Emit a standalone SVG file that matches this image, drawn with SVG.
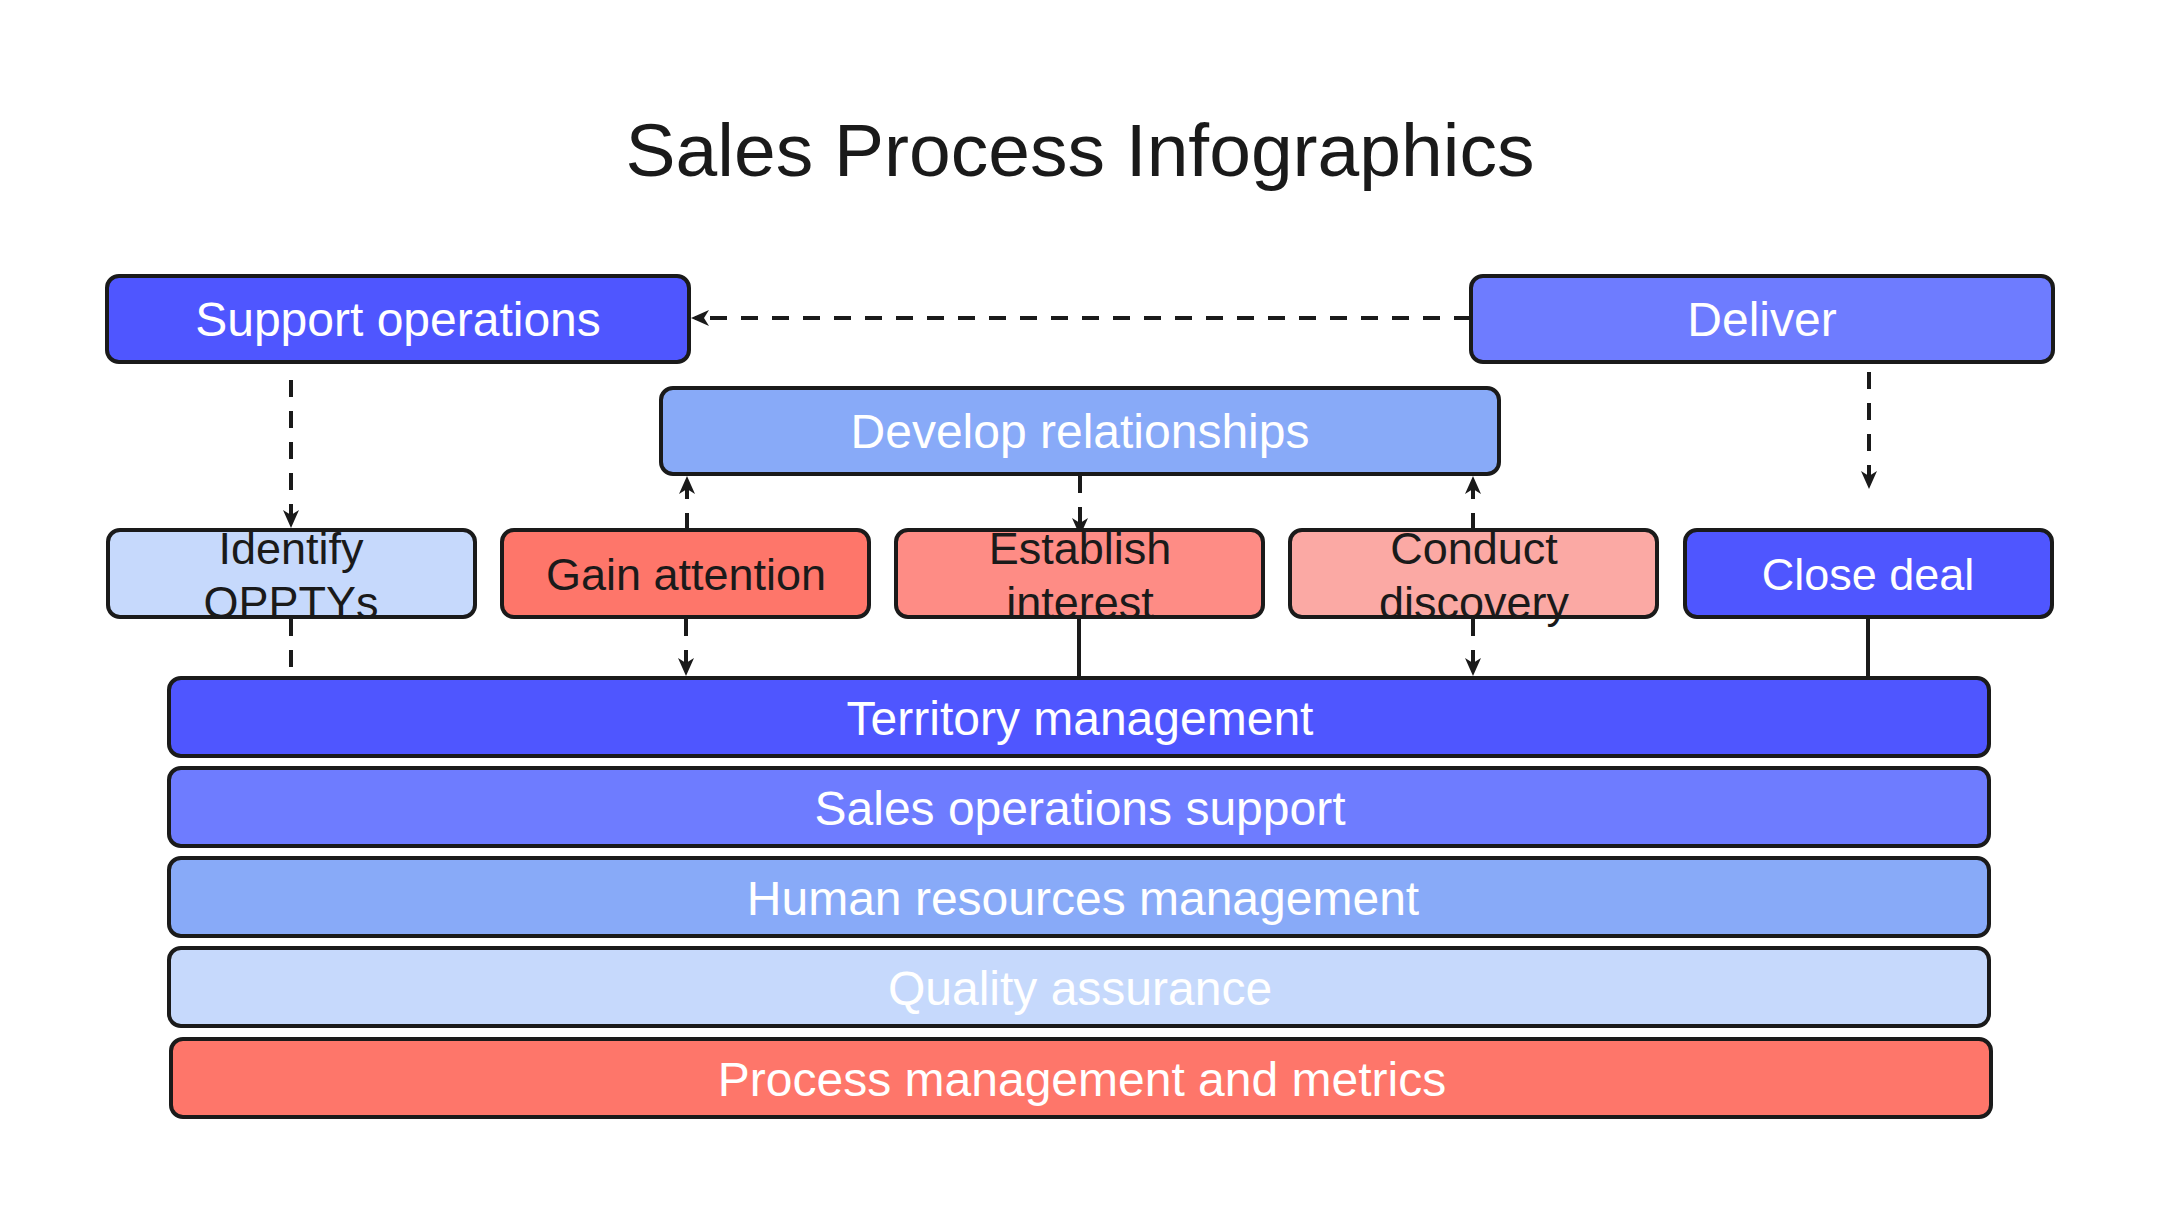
<svg xmlns="http://www.w3.org/2000/svg" width="2160" height="1215" viewBox="0 0 2160 1215">
<defs>
<marker id="arr" viewBox="0 0 18 18" refX="14" refY="9" markerWidth="18" markerHeight="18" markerUnits="userSpaceOnUse" orient="auto">
<path d="M0,1 L18,9 L0,17 L5,9 z" fill="#1a1a1a"/>
</marker>
<style>
.n{stroke:#1a1a1a;stroke-width:4}
.t{font-family:"Liberation Sans",Arial,sans-serif;text-anchor:middle}
.w{fill:#ffffff}
.d{fill:#1a1a1a}
.c{fill:none;stroke:#1a1a1a;stroke-width:4}
.dash{stroke-dasharray:17 14}
</style>
</defs>
<rect width="2160" height="1215" fill="#ffffff"/>
<text class="t d" x="1080" y="176" font-size="75">Sales Process Infographics</text>

<g id="connectors">
<line class="c dash" x1="1471" y1="318" x2="695" y2="318" marker-end="url(#arr)"/>
<line class="c dash" x1="291" y1="380" x2="291" y2="524" marker-end="url(#arr)"/>
<line class="c dash" x1="1869" y1="372" x2="1869" y2="485" marker-end="url(#arr)"/>
<line class="c dash" x1="687" y1="530" x2="687" y2="480" marker-end="url(#arr)"/>
<line class="c dash" x1="1080" y1="476" x2="1080" y2="532" marker-end="url(#arr)"/>
<line class="c dash" x1="1473" y1="530" x2="1473" y2="480" marker-end="url(#arr)"/>
<line class="c dash" x1="291" y1="619" x2="291" y2="668"/>
<line class="c dash" x1="686" y1="619" x2="686" y2="672" marker-end="url(#arr)"/>
<line class="c" x1="1079" y1="619" x2="1079" y2="678"/>
<line class="c dash" x1="1473" y1="619" x2="1473" y2="672" marker-end="url(#arr)"/>
<line class="c" x1="1868" y1="619" x2="1868" y2="678"/>
</g>

<g id="support-operations">
<rect class="n" x="107" y="276" width="582" height="86" rx="12" fill="#4f56ff"/>
<text class="t w" x="398" y="336" font-size="48">Support operations</text>
</g>
<g id="deliver">
<rect class="n" x="1471" y="276" width="582" height="86" rx="12" fill="#6e7cff"/>
<text class="t w" x="1762" y="336" font-size="48">Deliver</text>
</g>
<g id="develop-relationships">
<rect class="n" x="661" y="388" width="838" height="86" rx="12" fill="#88aaf8"/>
<text class="t w" x="1080" y="448" font-size="48">Develop relationships</text>
</g>

<g id="identify-opptys">
<rect class="n" x="108" y="530" width="367" height="87" rx="12" fill="#c6d9fc"/>
<text class="t d" x="291" y="564" font-size="45">Identify</text>
<text class="t d" x="291" y="618" font-size="45">OPPTYs</text>
</g>
<g id="gain-attention">
<rect class="n" x="502" y="530" width="367" height="87" rx="12" fill="#fe766a"/>
<text class="t d" x="686" y="590" font-size="45">Gain attention</text>
</g>
<g id="establish-interest">
<rect class="n" x="896" y="530" width="367" height="87" rx="12" fill="#fe8c85"/>
<text class="t d" x="1080" y="564" font-size="45">Establish</text>
<text class="t d" x="1080" y="618" font-size="45">interest</text>
</g>
<g id="conduct-discovery">
<rect class="n" x="1290" y="530" width="367" height="87" rx="12" fill="#fba9a4"/>
<text class="t d" x="1474" y="564" font-size="45">Conduct</text>
<text class="t d" x="1474" y="618" font-size="45">discovery</text>
</g>
<g id="close-deal">
<rect class="n" x="1685" y="530" width="367" height="87" rx="12" fill="#4f56ff"/>
<text class="t w" x="1868" y="590" font-size="45">Close deal</text>
</g>

<g id="territory-management">
<rect class="n" x="169" y="678" width="1820" height="78" rx="12" fill="#4f56ff"/>
<text class="t w" x="1080" y="735" font-size="48">Territory management</text>
</g>
<g id="sales-operations-support">
<rect class="n" x="169" y="768" width="1820" height="78" rx="12" fill="#6e7cff"/>
<text class="t w" x="1080" y="825" font-size="48">Sales operations support</text>
</g>
<g id="human-resources-management">
<rect class="n" x="169" y="858" width="1820" height="78" rx="12" fill="#88aaf8"/>
<text class="t w" x="1083" y="915" font-size="48">Human resources management</text>
</g>
<g id="quality-assurance">
<rect class="n" x="169" y="948" width="1820" height="78" rx="12" fill="#c6d9fc"/>
<text class="t w" x="1080" y="1005" font-size="48">Quality assurance</text>
</g>
<g id="process-management">
<rect class="n" x="171" y="1039" width="1820" height="78" rx="12" fill="#fe766a"/>
<text class="t w" x="1082" y="1096" font-size="48">Process management and metrics</text>
</g>
</svg>
